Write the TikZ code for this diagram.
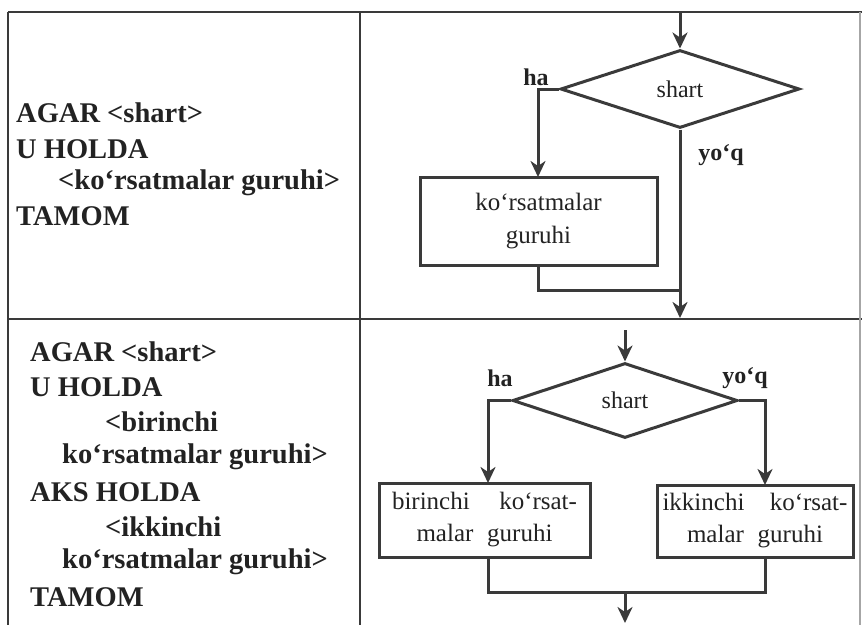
\documentclass[tikz,border=0pt]{standalone}
\usepackage{fontspec}
\setmainfont{Liberation Serif}
\usetikzlibrary{shapes.geometric,arrows.meta}
\definecolor{ink}{HTML}{3A3A3A}
\definecolor{txt}{HTML}{222222}
\begin{document}
\begin{tikzpicture}[x=1pt,y=-1pt,
  tbl/.style={line width=2.8pt, draw=ink},
  flow/.style={line width=3pt, draw=ink},
  arr/.style={flow,-{Stealth[length=16pt,width=15pt,inset=5pt]}},
  dec/.style={diamond, draw=ink, line width=3pt, inner sep=0pt, text=txt,
    font=\fontsize{24}{28}\selectfont},
  blk/.style={rectangle, draw=ink, line width=3pt, inner sep=0pt, align=center, text=txt,
    font=\fontsize{25}{33}\selectfont},
  blkb/.style={rectangle, draw=ink, line width=3pt, inner sep=0pt, align=center, text=txt,
    font=\fontsize{25}{32}\selectfont},
  code/.style={anchor=west, inner sep=0pt, text=txt, font=\fontsize{28.5}{32}\selectfont\bfseries},
  lab/.style={inner sep=0pt, text=txt, font=\fontsize{24}{28}\selectfont\bfseries}
]
\useasboundingbox (0,0) rectangle (862,625);
% table
\coordinate (tl) at (8,12);
\coordinate (tr) at (862,12);
\coordinate (bl) at (8,625);
\coordinate (mt) at (360,12);
\coordinate (mb) at (360,625);
\coordinate (rl) at (8,319);
\coordinate (rr) at (862,319);
\coordinate (rt) at (860,12);
\coordinate (rb) at (860,625);
\draw[tbl] (tl) -- (tr);
\draw[tbl] (tl) -- (bl);
\draw[tbl] (mt) -- (mb);
\draw[tbl] (rl) -- (rr);
\draw[line width=1.2pt, draw=black!35] (rt) -- (rb);

% left texts, row 1
\node[code] (a1) at (16,113) {AGAR <shart>};
\node[code] (a2) at (16,149) {U HOLDA};
\node[code] (a3) at (58,183) {<ko‘rsatmalar guruhi>};
\node[code] (a4) at (16,216) {TAMOM};

% left texts, row 2
\node[code] (c1) at (30,352) {AGAR <shart>};
\node[code] (c2) at (30,387) {U HOLDA};
\node[code] (c3) at (105,422) {<birinchi};
\node[code] (c4) at (62,457) {ko‘rsatmalar guruhi>};
\node[code] (c5) at (30,492) {AKS HOLDA};
\node[code] (c6) at (105,527) {<ikkinchi};
\node[code] (c7) at (62,562) {ko‘rsatmalar guruhi>};
\node[code] (c8) at (30,597) {TAMOM};

% flowchart 1
\coordinate (in1) at (680,12);
\node[dec, minimum width=239pt, minimum height=78pt, aspect=3.06] (d1) at (680,89) {shart};
\node[blk, minimum width=237pt, minimum height=88pt] (b1) at (538.5,221) {ko‘rsatmalar\\guruhi};
\coordinate (b1in) at (538,177);
\coordinate (b1out) at (538,265);
\coordinate (j1) at (680,290);
\coordinate (out1) at (680,318);
\draw[arr] (in1) -- (d1.north);
\draw[arr] (d1.west) -| (b1in);
\draw[arr] (d1.south) -- (out1);
\draw[flow] (b1out) |- (j1);
\node[lab] (ha1) at (536,77) {ha};
\node[lab] (no1) at (721,155) {yo‘q};

% flowchart 2
\coordinate (in2) at (625,330);
\node[dec, minimum width=225pt, minimum height=75pt, aspect=3] (d2) at (625,400.5) {shart};
\node[blkb, minimum width=211pt, minimum height=74pt] (b2) at (484.5,520)
  {\makebox[185pt][s]{birinchi\hfill ko‘rsat-}\\\makebox[136pt][s]{malar\hfill guruhi}};
\node[blkb, minimum width=196pt, minimum height=72pt] (b3) at (755,521)
  {\makebox[185pt][s]{ikkinchi\hfill ko‘rsat-}\\\makebox[136pt][s]{malar\hfill guruhi}};
\coordinate (b2in) at (488,483);
\coordinate (b3in) at (765,485);
\coordinate (b2out) at (488,557);
\coordinate (b3out) at (765,557);
\coordinate (jl) at (488,592);
\coordinate (jr) at (765,592);
\coordinate (j2) at (625,592);
\coordinate (out2) at (625,623);
\draw[arr] (in2) -- (d2.north);
\draw[arr] (d2.west) -| (b2in);
\draw[arr] (d2.east) -| (b3in);
\draw[flow] (b2out) -- (jl) -- (jr) -- (b3out);
\draw[arr] (j2) -- (out2);
\node[lab] (ha2) at (500,378) {ha};
\node[lab] (no2) at (745,378) {yo‘q};
\end{tikzpicture}
\end{document}
